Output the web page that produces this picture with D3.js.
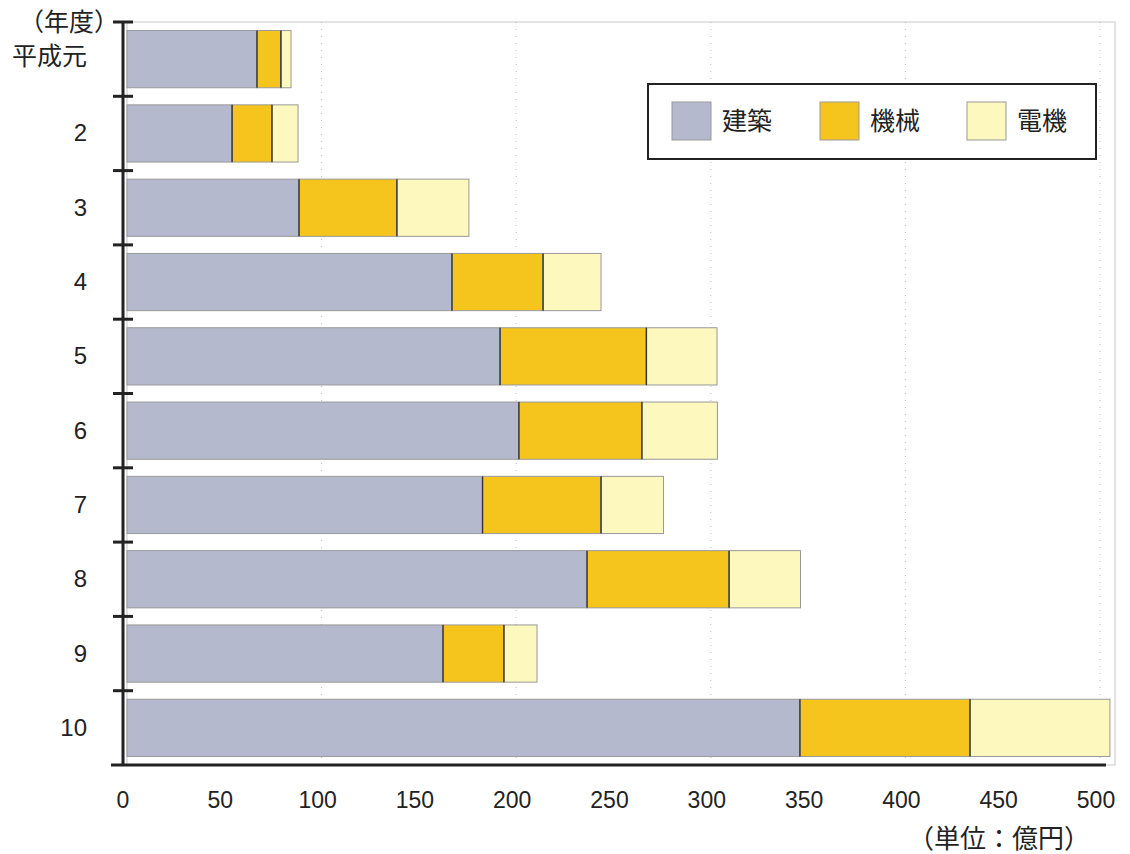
<!DOCTYPE html>
<html>
<head>
<meta charset="utf-8">
<script src="https://cdn.jsdelivr.net/npm/d3@7"></script>
<style>
    body { margin: 0; background: #fff; }
    text { font-family: "Liberation Sans", Arial, "Noto Sans CJK JP", sans-serif; fill: #222; }
    .jp { font-family: "Noto Sans CJK JP", sans-serif; }
</style>
</head>
<body>
<div id="chart"></div>
<script>
// data (単位：億円)
const years = ['平成元', '2', '3', '4', '5', '6', '7', '8', '9', '10'];
const kenchiku = [66.8, 54.0, 88.4, 167.0, 191.7, 201.4, 182.7, 236.4, 162.4, 345.8];
const kikai = [12.3, 20.5, 50.3, 46.8, 75.2, 63.2, 60.9, 73.0, 31.3, 87.4];
const denki = [5.2, 13.4, 37.0, 29.8, 36.3, 38.8, 32.1, 36.7, 17.0, 71.9];
const seriesNames = ['建築', '機械', '電機'];
const xTicks = [0, 50, 100, 150, 200, 250, 300, 350, 400, 450, 500];

const colors = ['#b4b9cd', '#f5c51e', '#fcf8be'];

const width = 1130, height = 854;
const plotTop = 22, plotBottom = 765;

const svg = d3.select('#chart').append('svg')
    .attr('width', width)
    .attr('height', height);

const x = d3.scaleLinear().domain([0, 500]).range([127, 1100]);
const y = d3.scaleBand().domain(years).range([plotTop, plotBottom])
    .paddingInner(0.23).paddingOuter(0.115);

// build stack table
const table = years.map((yr, i) => ({ year: yr, '建築': kenchiku[i], '機械': kikai[i], '電機': denki[i] }));
const stacked = d3.stack().keys(seriesNames)(table);

// faint frame and dotted grid
svg.append('rect')
    .attr('x', x(0)).attr('y', plotTop)
    .attr('width', 1115 - x(0)).attr('height', plotBottom - plotTop)
    .attr('fill', 'none').attr('stroke', '#c8c8c8').attr('stroke-width', 1);

svg.append('g')
    .selectAll('line')
    .data([100, 200, 300, 400, 500])
    .join('line')
    .attr('x1', d => x(d)).attr('x2', d => x(d))
    .attr('y1', plotTop).attr('y2', plotBottom)
    .attr('stroke', '#bbb').attr('stroke-width', 1)
    .attr('stroke-dasharray', '1,6');

// bars
const layers = svg.append('g').selectAll('g')
    .data(stacked)
    .join('g')
    .attr('fill', (d, i) => colors[i]);

layers.selectAll('rect')
    .data(d => d)
    .join('rect')
    .attr('x', d => x(d[0]))
    .attr('y', d => y(d.data.year))
    .attr('width', d => x(d[1]) - x(d[0]))
    .attr('height', y.bandwidth())
    .attr('stroke', '#999')
    .attr('stroke-width', 1);

// dark dividers between segments
svg.append('g').selectAll('line')
    .data(stacked.slice(1).flatMap(s => s.map(d => d)))
    .join('line')
    .attr('x1', d => x(d[0])).attr('x2', d => x(d[0]))
    .attr('y1', d => y(d.data.year))
    .attr('y2', d => y(d.data.year) + y.bandwidth())
    .attr('stroke', '#333').attr('stroke-width', 1.4);

// y axis line and ticks
svg.append('line')
    .attr('x1', x(0) - 4).attr('x2', x(0) - 4)
    .attr('y1', plotTop).attr('y2', plotBottom)
    .attr('stroke', '#222').attr('stroke-width', 3);

const boundaries = d3.range(years.length + 1).map(i => plotTop + i * y.step());
svg.append('g').selectAll('line')
    .data(boundaries.slice(0, -1))
    .join('line')
    .attr('x1', x(0) - 14).attr('x2', x(0) + 6)
    .attr('y1', d => d).attr('y2', d => d)
    .attr('stroke', '#222').attr('stroke-width', 3);

// x axis line
svg.append('line')
    .attr('x1', x(0) - 16).attr('x2', 1106)
    .attr('y1', plotBottom).attr('y2', plotBottom)
    .attr('stroke', '#222').attr('stroke-width', 3);

// x tick labels
svg.append('g').selectAll('text')
    .data(xTicks)
    .join('text')
    .attr('x', d => x(d) - 4)
    .attr('y', 808)
    .attr('text-anchor', 'middle')
    .attr('font-size', 23)
    .text(d => d);

// y labels
svg.append('g').selectAll('text')
    .data(years)
    .join('text')
    .attr('class', d => d === '平成元' ? 'jp' : null)
    .attr('x', 87)
    .attr('y', d => y(d) + y.bandwidth() / 2 + (d === '平成元' ? 6 : 8))
    .attr('text-anchor', 'end')
    .attr('font-size', d => d === '平成元' ? 25 : 24)
    .text(d => d);

svg.append('text')
    .attr('class', 'jp')
    .attr('x', 119).attr('y', 31)
    .attr('text-anchor', 'end')
    .attr('font-size', 25)
    .text('（年度）');

svg.append('text')
    .attr('class', 'jp')
    .attr('x', 1090).attr('y', 848)
    .attr('text-anchor', 'end')
    .attr('font-size', 26)
    .text('（単位：億円）');

// legend
const legend = svg.append('g');
legend.append('rect')
    .attr('x', 648).attr('y', 84)
    .attr('width', 448).attr('height', 75)
    .attr('fill', '#fff').attr('stroke', '#222').attr('stroke-width', 2);

const legendX = [672, 820, 967];
const items = legend.selectAll('g.item')
    .data(seriesNames)
    .join('g')
    .attr('class', 'item')
    .attr('transform', (d, i) => `translate(${legendX[i]},102)`);

items.append('rect')
    .attr('width', 39).attr('height', 38)
    .attr('fill', (d, i) => colors[i])
    .attr('stroke', '#999').attr('stroke-width', 1);

items.append('text')
    .attr('class', 'jp')
    .attr('x', 50).attr('y', 28)
    .attr('font-size', 25)
    .text(d => d);
</script>
</body>
</html>
